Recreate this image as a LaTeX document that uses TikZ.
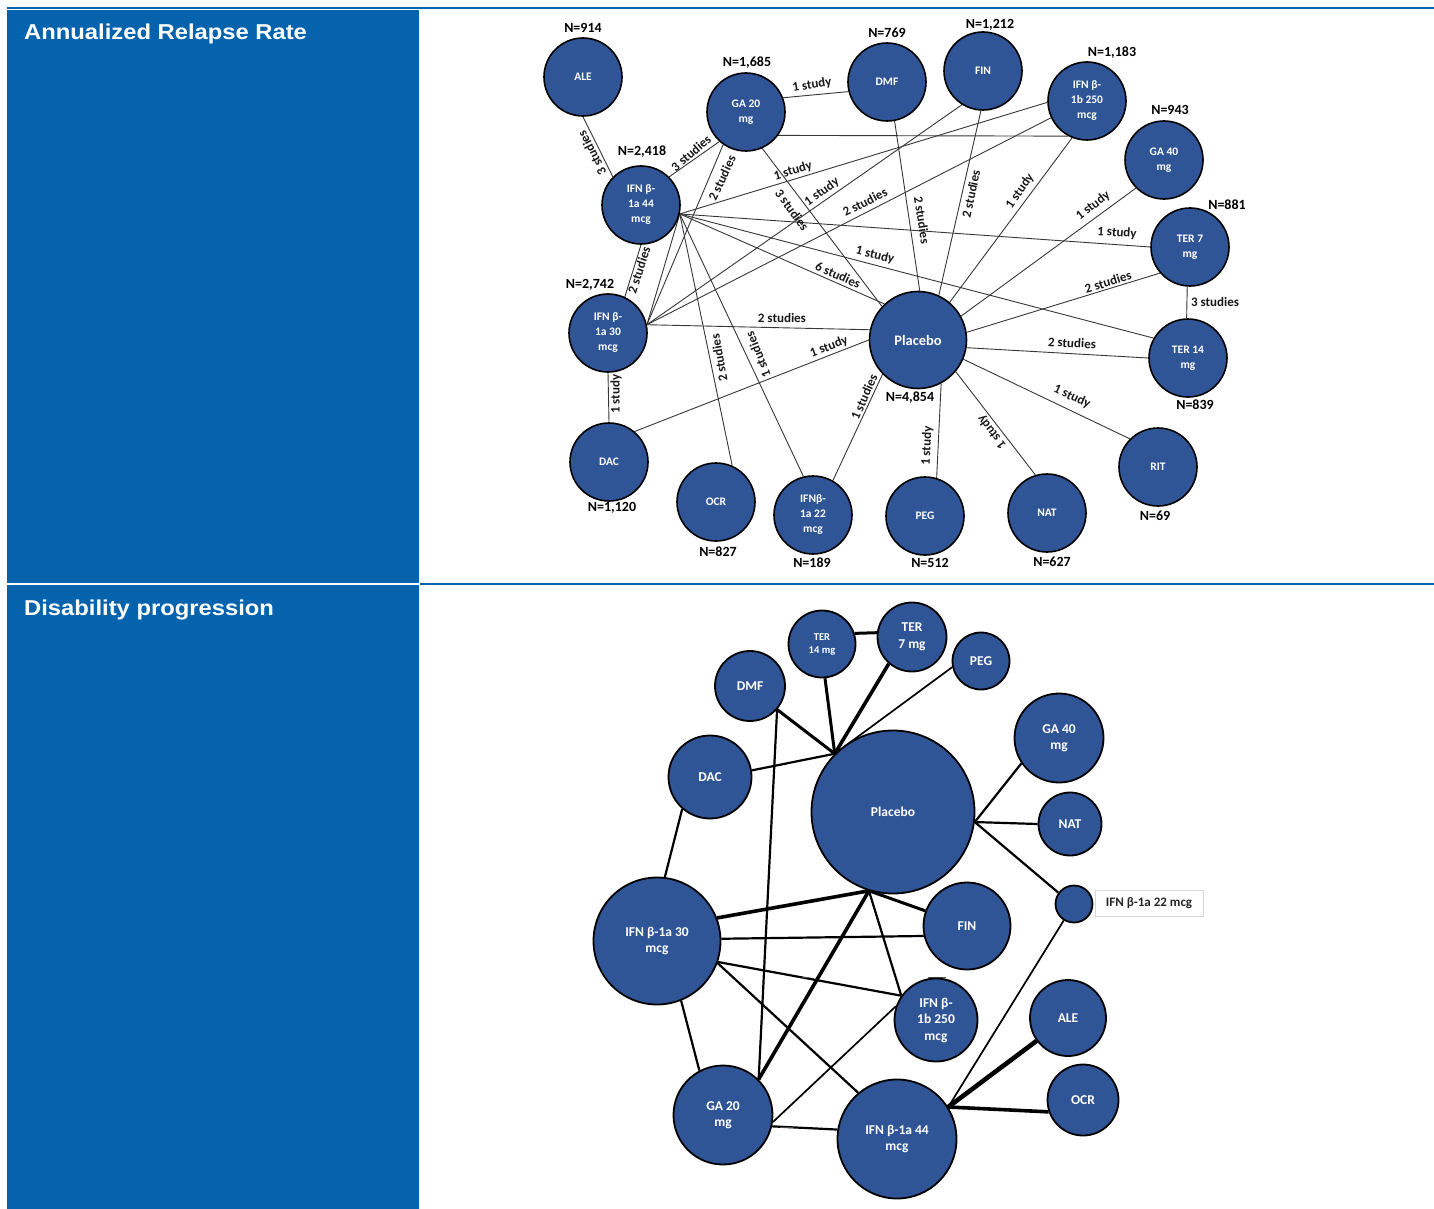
\documentclass[tikz,border=0pt]{standalone}
\usepackage{fontspec}
\setmainfont{Carlito}
\newfontfamily\arialfont{Liberation Sans}
\usepackage{graphicx}
\usetikzlibrary{backgrounds}
\definecolor{cellblue}{RGB}{5,99,174}
\definecolor{nodeblue}{RGB}{47,85,151}
\definecolor{edgegray}{RGB}{55,55,55}
\definecolor{boxgray}{RGB}{215,215,215}
\begin{document}
\begin{tikzpicture}[x=1pt,y=-1pt,
  tnode/.style={circle, draw=black, line width=1.6pt, fill=nodeblue, minimum size=78pt, inner sep=0pt,
    text=white, font=\fontsize{11.5}{15}\selectfont\bfseries, align=center},
  nlab/.style={font=\fontsize{14}{16}\selectfont\bfseries, text=black, inner sep=0pt},
  elab/.style={font=\fontsize{13}{16}\selectfont\bfseries, text=black!90, inner sep=0pt},
  tedge/.style={draw=edgegray, line width=0.9pt},
  bnode/.style={circle, draw=black, line width=1.8pt, fill=nodeblue, inner sep=0pt,
    text=white, font=\fontsize{13.5}{16.5}\selectfont\bfseries, align=center},
  bedge/.style={draw=black, line width=2.2pt},
  bthin/.style={draw=black, line width=1.7pt},
  bthick/.style={draw=black, line width=3pt},
  bheavy/.style={draw=black, line width=3.6pt},
  bmax/.style={draw=black, line width=4.6pt},
  hdr/.style={anchor=base west, inner sep=0pt, text=white, font=\arialfont\bfseries\fontsize{20.5}{24}\selectfont}
]
\useasboundingbox (0,0) rectangle (1434,1209);

% ---------- headers ----------
\node[hdr] (h1) at (24,39.5) {\scalebox{1.16}[1.05]{Annualized Relapse Rate}};
\node[hdr] (h2) at (24,615) {\scalebox{1.16}[1.05]{Disability progression}};

% ---------- top network: nodes ----------
\node[tnode] (ale)   at (583,77)  {ALE};
\node[tnode] (ga20)  at (746,112) {GA 20\\mg};
\node[tnode] (dmf)   at (887,82)  {DMF};
\node[tnode] (fin)   at (983,71)  {FIN};
\node[tnode] (ifn1b) at (1087,101) {IFN β-\\1b 250\\mcg};
\node[tnode] (ga40)  at (1164,160) {GA 40\\mg};
\node[tnode] (ter7)  at (1190,247) {TER 7\\mg};
\node[tnode] (ter14) at (1188,358) {TER 14\\mg};
\node[tnode] (rit)   at (1158,467) {RIT};
\node[tnode] (nat)   at (1047,513) {NAT};
\node[tnode] (peg)   at (925,516) {PEG};
\node[tnode] (ifn22) at (813,515) {IFNβ-\\1a 22\\mcg};
\node[tnode] (ocr)   at (716,502) {OCR};
\node[tnode] (dac)   at (609,462) {DAC};
\node[tnode] (ifn30) at (608,333) {IFN β-\\1a 30\\mcg};
\node[tnode] (ifn44) at (641,205) {IFN β-\\1a 44\\mcg};
\node[tnode, minimum size=97pt, font=\fontsize{14.5}{16}\selectfont\bfseries] (plac) at (918,340) {Placebo};

% N labels
\node[nlab] (n1)  at (583,28)  {N=914};
\node[nlab] (n2)  at (747,63)  {N=1,685};
\node[nlab] (n3)  at (887,33)  {N=769};
\node[nlab] (n4)  at (990,25)  {N=1,212};
\node[nlab] (n5)  at (1112,53) {N=1,183};
\node[nlab] (n6)  at (1170,110) {N=943};
\node[nlab] (n7)  at (1227,205) {N=881};
\node[nlab] (n8)  at (642,152) {N=2,418};
\node[nlab] (n9)  at (590,285) {N=2,742};
\node[nlab] (n10) at (910,398) {N=4,854};
\node[nlab] (n11) at (1195,405) {N=839};
\node[nlab] (n12) at (1155,516) {N=69};
\node[nlab] (n13) at (1052,562) {N=627};
\node[nlab] (n14) at (930,563) {N=512};
\node[nlab] (n15) at (812,563) {N=189};
\node[nlab] (n16) at (718,552) {N=827};
\node[nlab] (n17) at (612,508) {N=1,120};

% edge labels
\node[elab, rotate=117] (l1)  at (592,153) {3 studies};
\node[elab, rotate=41]  (l2)  at (691,153) {3 studies};
\node[elab, rotate=9]   (l3)  at (812,85)  {1 study};
\node[elab, rotate=65]  (l4)  at (722,178) {2 studies};
\node[elab, rotate=-54] (l5)  at (792,210) {3 studies};
\node[elab, rotate=17]  (l6)  at (793,171) {1 study};
\node[elab, rotate=36]  (l7)  at (822,192) {1 study};
\node[elab, rotate=27]  (l8)  at (865,202) {2 studies};
\node[elab, rotate=-81] (l9)  at (922,220) {2 studies};
\node[elab, rotate=78]  (l10) at (971,194) {2 studies};
\node[elab, rotate=55]  (l11) at (1020,191) {1 study};
\node[elab, rotate=38]  (l12) at (1093,206) {1 study};
\node[elab, rotate=-4]  (l13) at (1117,233) {1 study};
\node[elab, rotate=17]  (l14) at (1108,282) {2 studies};
\node[elab]             (l15) at (1215,302) {3 studies};
\node[elab, rotate=-3]  (l16) at (1072,343) {2 studies};
\node[elab, rotate=-14] (l17) at (875,255) {1 study};
\node[elab, rotate=-24] (l18) at (838,275) {6 studies};
\node[elab, rotate=72]  (l19) at (639,270) {2 studies};
\node[elab, rotate=-1]  (l20) at (782,318) {2 studies};
\node[elab, rotate=21]  (l21) at (829,347) {1 study};
\node[elab, rotate=90]  (l22) at (616,394) {1 study};
\node[elab, rotate=100] (l23) at (719,358) {2 studies};
\node[elab, rotate=112] (l24) at (758,355) {1 studies};
\node[elab, rotate=66]  (l25) at (864,397) {1 studies};
\node[elab, rotate=87]  (l26) at (927,446) {1 study};
\node[elab, rotate=127] (l27) at (992,432) {1 study};
\node[elab, rotate=-25] (l28) at (1072,397) {1 study};

% ---------- bottom network: nodes ----------
\node[bnode, minimum size=163pt] (bplac) at (893,812) {Placebo};
\node[bnode, minimum size=67pt, font=\fontsize{10.5}{13}\selectfont\bfseries] (bter14) at (822,644) {TER\\14 mg};
\node[bnode, minimum size=69pt] (bter7) at (912,637) {TER\\7 mg};
\node[bnode, minimum size=57pt] (bpeg) at (981,661) {PEG};
\node[bnode, minimum size=70pt] (bdmf) at (750,686) {DMF};
\node[bnode, minimum size=83pt] (bdac) at (710,777) {DAC};
\node[bnode, minimum size=89pt] (bga40) at (1059,738) {GA 40\\mg};
\node[bnode, minimum size=63pt] (bnat) at (1070,824) {NAT};
\node[bnode, minimum size=37pt] (bifn22) at (1074,904) {};
\node[draw=boxgray, line width=0.8pt, fill=white, minimum width=108pt, minimum height=26pt, inner sep=0pt,
      font=\fontsize{13}{15}\selectfont\bfseries, text=black!85] (b22lab) at (1149,903) {IFN β-1a 22 mcg};
\node[bnode, minimum size=87pt] (bfin) at (967,926) {FIN};
\node[bnode, minimum size=83pt] (bifn1b) at (936,1020) {IFN β-\\1b 250\\mcg};
\node[bnode, minimum size=76pt] (bale) at (1068,1018) {ALE};
\node[bnode, minimum size=71pt] (bocr) at (1083,1100) {OCR};
\node[bnode, minimum size=119pt] (bifn44) at (897,1139) {IFN β-1a 44\\mcg};
\node[bnode, minimum size=99pt] (bga20) at (723,1115) {GA 20\\mg};
\node[bnode, minimum size=127pt] (bifn30) at (657,941) {IFN β-1a 30\\mcg};

\begin{scope}[on background layer]
% ---------- table frame ----------
\fill[white] (0,0) rectangle (1434,1209);
\fill[cellblue] (7,7.3) rectangle (1434,9.3);
\fill[cellblue] (7,10) rectangle (419,582.6);
\fill[cellblue] (420,582.8) rectangle (1434,585);
\fill[cellblue] (7,585.4) rectangle (419,1209);

% ---------- top network: edges ----------
\draw[tedge] (ale.south) -- (ifn44.135);
\draw[tedge] (ifn44.45) -- (ga20.228);
\draw[tedge] (ga20.21) -- (dmf.194);
\draw[tedge] (ga20.235) -- (ifn30.12);
\draw[tedge] (ga20.-66) -- (plac.137);
\draw[tedge] (ga20.-36) -- (ifn1b.242);
\draw[tedge] (ifn44.-13) -- (ifn1b.182);
\draw[tedge] (ifn44.-13) -- (ter7.180);
\draw[tedge] (ifn44.-13) -- (ter14.150);
\draw[tedge] (ifn44.-13) -- (plac.133);
\draw[tedge] (ifn44.-13) -- (ocr.66);
\draw[tedge] (ifn44.-13) -- (ifn22.104);
\draw[tedge] (ifn44.-13) -- (ifn30.12);
\draw[tedge] (ifn44.south) -- (ifn30.65);
\draw[tedge] (ifn30.12) -- (fin.238);
\draw[tedge] (ifn30.12) -- (ifn1b.205);
\draw[tedge] (ifn30.12) -- (plac.168);
\draw[tedge] (ifn30.south) -- (dac.north);
\draw[tedge] (dac.50) -- (plac.180);
\draw[tedge] (dmf.-79) -- (plac.88);
\draw[tedge] (fin.-93) -- (plac.65);
\draw[tedge] (ifn1b.248) -- (plac.50);
\draw[tedge] (ga40.225) -- (plac.29);
\draw[tedge] (ter7.221) -- (plac.9);
\draw[tedge] (ter7.-94) -- (ter14.92);
\draw[tedge] (ter14.180) -- (plac.-9);
\draw[tedge] (rit.135) -- (plac.-23);
\draw[tedge] (nat.107) -- (plac.-40);
\draw[tedge] (peg.73) -- (plac.-62);
\draw[tedge] (ifn22.60) -- (plac.224);

% ---------- bottom network: edges ----------
\draw[bthick] (bter14.18) -- (bter7.173);
\draw[bthick] (bter14.-85) -- (bplac.north west);
\draw[bheavy] (bter7.229) -- (bplac.north west);
\draw[bthin]  (bpeg.192) -- (bplac.north west);
\draw[bthick] (bdmf.-41) -- (bplac.north west);
\draw[bedge]  (bdac.9) -- (bplac.north west);
\draw[bedge]  (bdmf.-41) -- (bga20.north east);
\draw[bedge]  (bdac.229) -- (bifn30.83);
\draw[bedge]  (bplac.-7) -- (bga40.214);
\draw[bedge]  (bplac.-7) -- (bnat.west);
\draw[bedge]  (bplac.-7) -- (bifn22.144);
\draw[bheavy] (bplac.253) -- (bifn30.21);
\draw[bthick] (bplac.253) -- (bfin.160);
\draw[bedge]  (bplac.253) -- (bifn1b.145);
\draw[bheavy] (bplac.253) -- (bga20.north east);
\draw[bedge]  (bifn30.2) -- (bfin.193);
\draw[bedge]  (bifn30.-19) -- (bifn1b.145);
\draw[bedge]  (bifn30.-20) -- (bifn44.130);
\draw[bedge]  (bifn30.-68) -- (bga20.118);
\draw[bthin]  (bga20.-8) -- (bifn1b.161);
\draw[bedge]  (bga20.-13) -- (bifn44.171);
\draw[bthin]  (bifn44.32) -- (bifn22.238);
\draw[bmax]   (bifn44.32) -- (bale.216);
\draw[bheavy] (bifn44.32) -- (bocr.199);
\draw[line width=1pt, black!70] (802,977) -- (809,977);
\draw[line width=1pt, black!70] (928,977) -- (946,977);
\draw[line width=1pt, black!70] (780,1127.5) -- (793,1127.5);
\end{scope}
\end{tikzpicture}
\end{document}
